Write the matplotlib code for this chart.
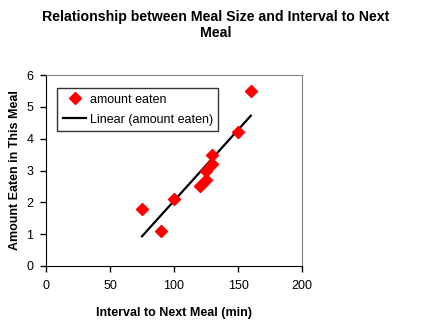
import numpy as np
import matplotlib
matplotlib.use('Agg')
import matplotlib.pyplot as plt

#------------------------------------------#
# Data
interval = [75, 90, 100, 120, 125, 125, 130, 130, 150, 160]
amount = [1.8, 1.1, 2.1, 2.5, 2.7, 3.0, 3.2, 3.5, 4.2, 5.5]
x_ticks = [0, 50, 100, 150, 200]
y_ticks = [0, 1, 2, 3, 4, 5, 6]

plt.rcParams['font.family'] = ['Liberation Sans', 'DejaVu Sans']

#------------------------------------------#
# Linear trend line (least squares)
slope, intercept = np.polyfit(interval, amount, 1)
fit_x = np.array([min(interval), max(interval)])
fit_y = slope * fit_x + intercept

#------ Plot ---------------#
fig = plt.figure(figsize=(4.23, 3.23), dpi=100)
ax = fig.add_axes([46/423, 57/323, 256/423, 191/323])

ax.plot(interval, amount, 'D', color='#ff0000', markersize=6.3, label='amount eaten', zorder=3)
ax.plot(fit_x, fit_y, '-', color='black', linewidth=1.6, label='Linear (amount eaten)', zorder=2)

ax.set_xlim(0, 200)
ax.set_ylim(0, 6)
ax.set_xticks(x_ticks)
ax.set_yticks(y_ticks)
ax.tick_params(axis='x', direction='out', length=4, width=1, labelsize=9, pad=6)
ax.tick_params(axis='y', direction='out', length=4, width=1, labelsize=9, pad=5)

for side in ['top', 'right']:
    ax.spines[side].set_color('#808080')
for side in ['left', 'bottom']:
    ax.spines[side].set_color('black')

ax.set_xlabel('Interval to Next Meal (min)', fontsize=9, fontweight='bold', labelpad=11)
ax.set_ylabel('Amount Eaten in This Meal', fontsize=9, fontweight='bold', labelpad=4)

leg = ax.legend(loc='upper left', bbox_to_anchor=(0.043, 0.932), fontsize=9,
                frameon=True, fancybox=False, edgecolor='black',
                handlelength=1.9, handletextpad=0.25, borderpad=0.45,
                labelspacing=0.65, borderaxespad=0)
leg.get_frame().set_linewidth(1)

fig.text(0.51, 0.97, 'Relationship between Meal Size and Interval to Next\nMeal',
         ha='center', va='top', fontsize=10.2, fontweight='bold', linespacing=1.25)

fig.savefig('out.png', dpi=100)
